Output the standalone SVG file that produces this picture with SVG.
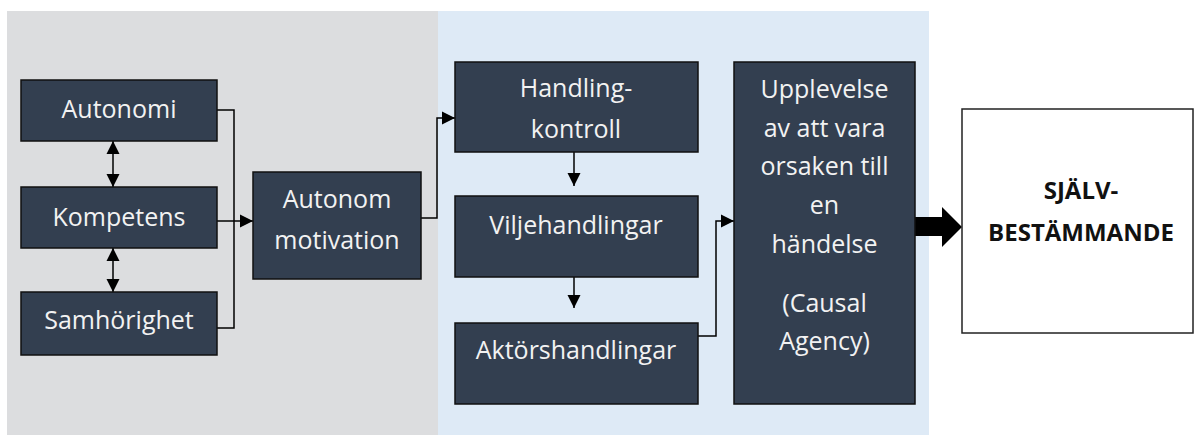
<svg xmlns="http://www.w3.org/2000/svg" width="1195" height="435" viewBox="0 0 1195 435">
<style>
.box{fill:#333F50;stroke:#111;stroke-width:1.5}
.t{font-family:"Open Sans","Noto Sans",sans-serif;font-size:25px;fill:#F2F2F2;text-anchor:middle}
.b{font-family:"Open Sans","Noto Sans",sans-serif;font-size:24px;font-weight:bold;fill:#111;text-anchor:middle}
.c{fill:none;stroke:#000;stroke-width:1.5}
</style>
<defs>
<marker id="ah" markerUnits="userSpaceOnUse" markerWidth="14" markerHeight="14" viewBox="0 0 14 14" refX="13" refY="7" orient="auto-start-reverse">
<path d="M0,0.5 L13,7 L0,13.5 Z" fill="#000"/>
</marker>
</defs>
<rect x="7" y="11" width="431" height="424" fill="#DCDDDF"/>
<rect x="438" y="11" width="491" height="424" fill="#DEEAF6"/>
<g id="connectors">
<path class="c" d="M217,110 H234 V328 H217"/>
<path class="c" d="M217,221 H253" marker-end="url(#ah)"/>
<path class="c" d="M113,141 V187" marker-start="url(#ah)" marker-end="url(#ah)"/>
<path class="c" d="M113,248 V292" marker-start="url(#ah)" marker-end="url(#ah)"/>
<path class="c" d="M421,218 H437 V118 H455" marker-end="url(#ah)"/>
<path class="c" d="M574,152 V186" marker-end="url(#ah)"/>
<path class="c" d="M574,277 V308" marker-end="url(#ah)"/>
<path class="c" d="M698,336 H716 V221 H734" marker-end="url(#ah)"/>
<path d="M915,217 H942 V207 L962,227 L942,247 V236 H915 Z" fill="#000"/>
</g>
<g id="autonomi"><rect class="box" x="21" y="80" width="196" height="61"/><text class="t" x="119" y="118">Autonomi</text></g>
<g id="kompetens"><rect class="box" x="21" y="187" width="196" height="61"/><text class="t" x="119" y="226">Kompetens</text></g>
<g id="samhorighet"><rect class="box" x="21" y="292" width="196" height="63"/><text class="t" x="119" y="329">Samhörighet</text></g>
<g id="autonom-motivation"><rect class="box" x="253" y="172" width="168" height="107"/><text class="t" x="337" y="208">Autonom</text><text class="t" x="337" y="249">motivation</text></g>
<g id="handlingkontroll"><rect class="box" x="455" y="62" width="243" height="90"/><text class="t" x="576" y="97">Handling-</text><text class="t" x="576" y="138">kontroll</text></g>
<g id="viljehandlingar"><rect class="box" x="455" y="196" width="243" height="81"/><text class="t" x="576" y="234">Viljehandlingar</text></g>
<g id="aktorshandlingar"><rect class="box" x="455" y="323" width="243" height="81"/><text class="t" x="576" y="359">Aktörshandlingar</text></g>
<g id="upplevelse"><rect class="box" x="734" y="62" width="181" height="342"/>
<text class="t" x="824.5" y="98">Upplevelse</text>
<text class="t" x="824.5" y="137">av att vara</text>
<text class="t" x="824.5" y="175">orsaken till</text>
<text class="t" x="824.5" y="214">en</text>
<text class="t" x="824.5" y="253">händelse</text>
<text class="t" x="824.5" y="312">(Causal</text>
<text class="t" x="824.5" y="350">Agency)</text>
</g>
<g id="sjalvbestammande"><rect x="962" y="109" width="231" height="224" fill="#fff" stroke="#222" stroke-width="1.5"/>
<text class="b" x="1081" y="199">SJÄLV-</text>
<text class="b" x="1081" y="241">BESTÄMMANDE</text>
</g>
</svg>
